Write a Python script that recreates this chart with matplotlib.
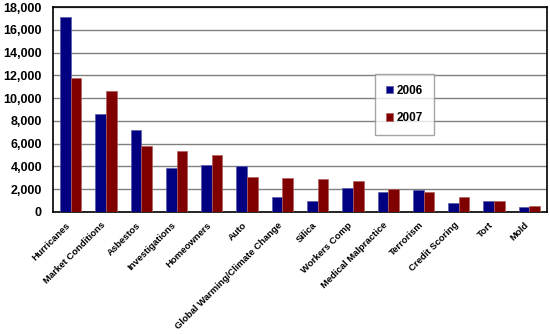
import matplotlib.pyplot as plt
import matplotlib.transforms as mtransforms
import numpy as np
from matplotlib.ticker import FuncFormatter

categories = ["Hurricanes", "Market Conditions", "Asbestos", "Investigations",
              "Homeowners", "Auto", "Global Warming/Climate Change", "Silica",
              "Workers Comp", "Medical Malpractice", "Terrorism", "Credit Scoring",
              "Tort", "Mold"]
y2006 = [17100, 8600, 7200, 3900, 4100, 4050, 1300, 1000, 2150, 1750, 1900, 760, 950, 440]
y2007 = [11800, 10600, 5800, 5400, 5000, 3100, 3000, 2900, 2750, 2000, 1800, 1350, 1000, 530]

plt.rcParams["font.family"] = ["Liberation Sans", "DejaVu Sans"]
plt.rcParams["font.weight"] = "bold"

fig = plt.figure(figsize=[5.5, 3.34], dpi=100)
ax = fig.add_axes([53 / 550, 1 - 212 / 334, (547 - 53) / 550, (212 - 7) / 334])

x = np.arange(len(categories))
w = 0.3
ax.bar(x - w / 2, y2006, w, color="#000080", edgecolor="#5a5aa8", linewidth=0.5, label="2006", zorder=3)
ax.bar(x + w / 2, y2007, w, color="#800000", edgecolor="#b06060", linewidth=0.5, label="2007", zorder=3)

ax.set_xlim(-0.5, len(categories) - 0.5)
ax.set_ylim(0, 18000)
ax.set_yticks(np.arange(0, 18001, 2000))
ax.yaxis.set_major_formatter(FuncFormatter(lambda v, p: f"{int(v):,}"))
ax.yaxis.grid(True, color="#808080", linewidth=1, zorder=0)
ax.tick_params(axis="y", length=0, pad=8, labelsize=9)
ax.tick_params(axis="x", length=0, pad=1, labelsize=6.8)
ax.set_xticks(x)
ax.set_xticklabels(categories, rotation=45, ha="right", rotation_mode="anchor")

# nudge the slanted category labels down and to the left of their ticks
shift = mtransforms.ScaledTranslation(-0.05, -0.07, fig.dpi_scale_trans)
for lbl in ax.get_xticklabels():
    lbl.set_transform(lbl.get_transform() + shift)

for s in ax.spines.values():
    s.set_linewidth(1.2)
    s.set_color("black")

leg = ax.legend(loc="upper left", bbox_to_anchor=((375 - 53) / 494, (212 - 74) / 205),
                fontsize=8.5, frameon=True, fancybox=False, edgecolor="#909090",
                handlelength=0.65, handleheight=0.65, handletextpad=0.3,
                labelspacing=1.3, borderpad=0.9, borderaxespad=0)
leg.get_frame().set_linewidth(1)

fig.savefig("out.png", dpi=100)
